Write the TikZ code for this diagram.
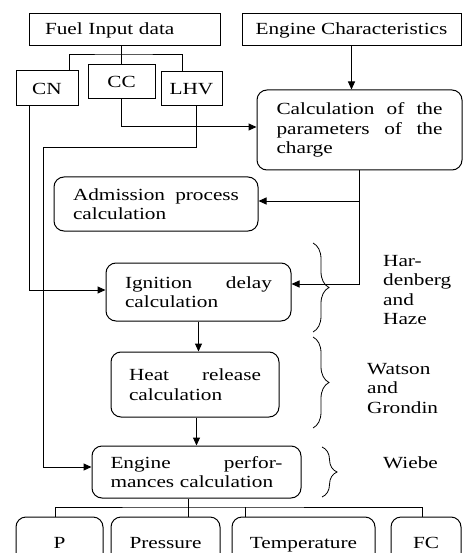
\documentclass[tikz,border=0pt]{standalone}
\usepackage{fontspec}
\setmainfont[FakeStretch=1.25]{Liberation Serif}
\usetikzlibrary{arrows.meta,decorations.pathreplacing}
\begin{document}
\begin{tikzpicture}[x=1pt,y=-1pt,
  every node/.style={font=\fontsize{17}{19.5}\selectfont, inner sep=0pt},
  sq/.style={draw, line width=1pt},
  rbox/.style={draw, line width=1pt, rounded corners=10pt},
  outbox/.style={rbox, minimum height=54pt, text height=12pt, text depth=4pt},
  conn/.style={line width=1pt},
  arr/.style={conn, -{Triangle[length=8pt,width=7pt]}},
  brc/.style={line width=0.8pt, decorate, decoration={brace, amplitude=#1}},
  lbl/.style={align=left, anchor=north west}
]
\useasboundingbox (0,0) rectangle (463,553);
\clip (0,0) rectangle (463,553);

% boxes
\node[sq, minimum width=191pt, minimum height=32pt, text width=159pt, align=left] (fuel) at (124.5,30) {Fuel Input data};
\node[sq, minimum width=219pt, minimum height=32pt] (engc) at (351.5,30) {Engine Characteristics};
\node[sq, minimum width=62pt, minimum height=35pt] (cn) at (47,88.5) {CN};
\node[sq, minimum width=67pt, minimum height=34pt] (cc) at (121.5,82) {CC};
\node[sq, minimum width=61pt, minimum height=34pt] (lhv) at (191.5,89) {LHV};
\node[rbox, minimum width=205pt, minimum height=80pt, text width=166pt, align=left] (calc) at (359.5,130)
  {Calculation\hfill of\hfill the\\parameters\hfill of\hfill the\\charge};
\node[rbox, minimum width=204pt, minimum height=54pt, text width=166pt, align=left] (adm) at (156,204)
  {Admission\hfill process\\calculation};
\node[rbox, minimum width=185pt, minimum height=58pt, text width=147pt, align=left] (ign) at (198.5,292)
  {Ignition\hfill delay\\calculation};
\node[rbox, minimum width=168pt, minimum height=65pt, text width=132pt, align=left] (heat) at (195,384.5)
  {Heat\hfill release\\calculation};
\node[rbox, minimum width=209pt, minimum height=52pt, text width=172pt, align=left] (perf) at (196.5,472)
  {Engine\hfill perfor-\\mances calculation};
\node[outbox, minimum width=87pt] (p) at (59.5,544) {P};
\node[outbox, minimum width=109pt] (pres) at (165.5,544) {Pressure};
\node[outbox, minimum width=143pt] (temp) at (303.5,544) {Temperature};
\node[outbox, minimum width=70pt] (fc) at (426,544) {FC};

% fuel tree
\coordinate (tj) at (121.5,55);
\draw[conn] (cc.north) -- (cc.north |- fuel.south);
\draw[conn] ([xshift=22pt]cn.north) |- (tj) -| ([xshift=-9.5pt]lhv.north);

% engine characteristics
\draw[arr] (engc.south) -- (engc.south |- calc.north);

% CC to calculation
\draw[arr] (cc.south) |- ([yshift=3pt]calc.west);

% LHV to engine performances
\coordinate (l1) at (43,148);
\draw[arr] ([xshift=4.5pt]lhv.south) |- (l1) |- ([yshift=5pt]perf.west);

% CN to ignition
\draw[arr] ([xshift=-18pt]cn.south) |- ([yshift=2pt]ign.west);

% calculation to admission and ignition
\path ([yshift=3pt]adm.east) coordinate (admin);
\draw[arr] (calc.south) |- ([yshift=8pt]ign.east);
\draw[arr] (calc.south |- admin) -- (admin);

% chain
\draw[arr] (ign.south) -- (ign.south |- heat.north);
\draw[arr] (perf.north |- heat.south) -- (perf.north);

% outputs
\coordinate (bj) at (188,507);
\draw[conn] ([xshift=-8.5pt]perf.south) -- (bj);
\draw[conn] ([xshift=-4.5pt]p.north) |- (bj) -| ([xshift=-4pt]fc.north);
\draw[conn] (bj) -- (bj |- pres.north);
\draw[conn] ([xshift=-58.5pt]temp.north) -- ++(0,-10);

% braces and labels
\draw[brc=16pt] (313,243) -- (313,332);
\draw[brc=16pt] (313,337) -- (313,428);
\draw[brc=15pt] (322,447) -- (322,497);
\node[lbl] (hh) at (383,255) {Har-\\denberg\\and\\Haze};
\node[lbl] (wg) at (367,363) {Watson\\and\\Grondin};
\node[lbl] (wb) at (383,456) {Wiebe};
\end{tikzpicture}
\end{document}
